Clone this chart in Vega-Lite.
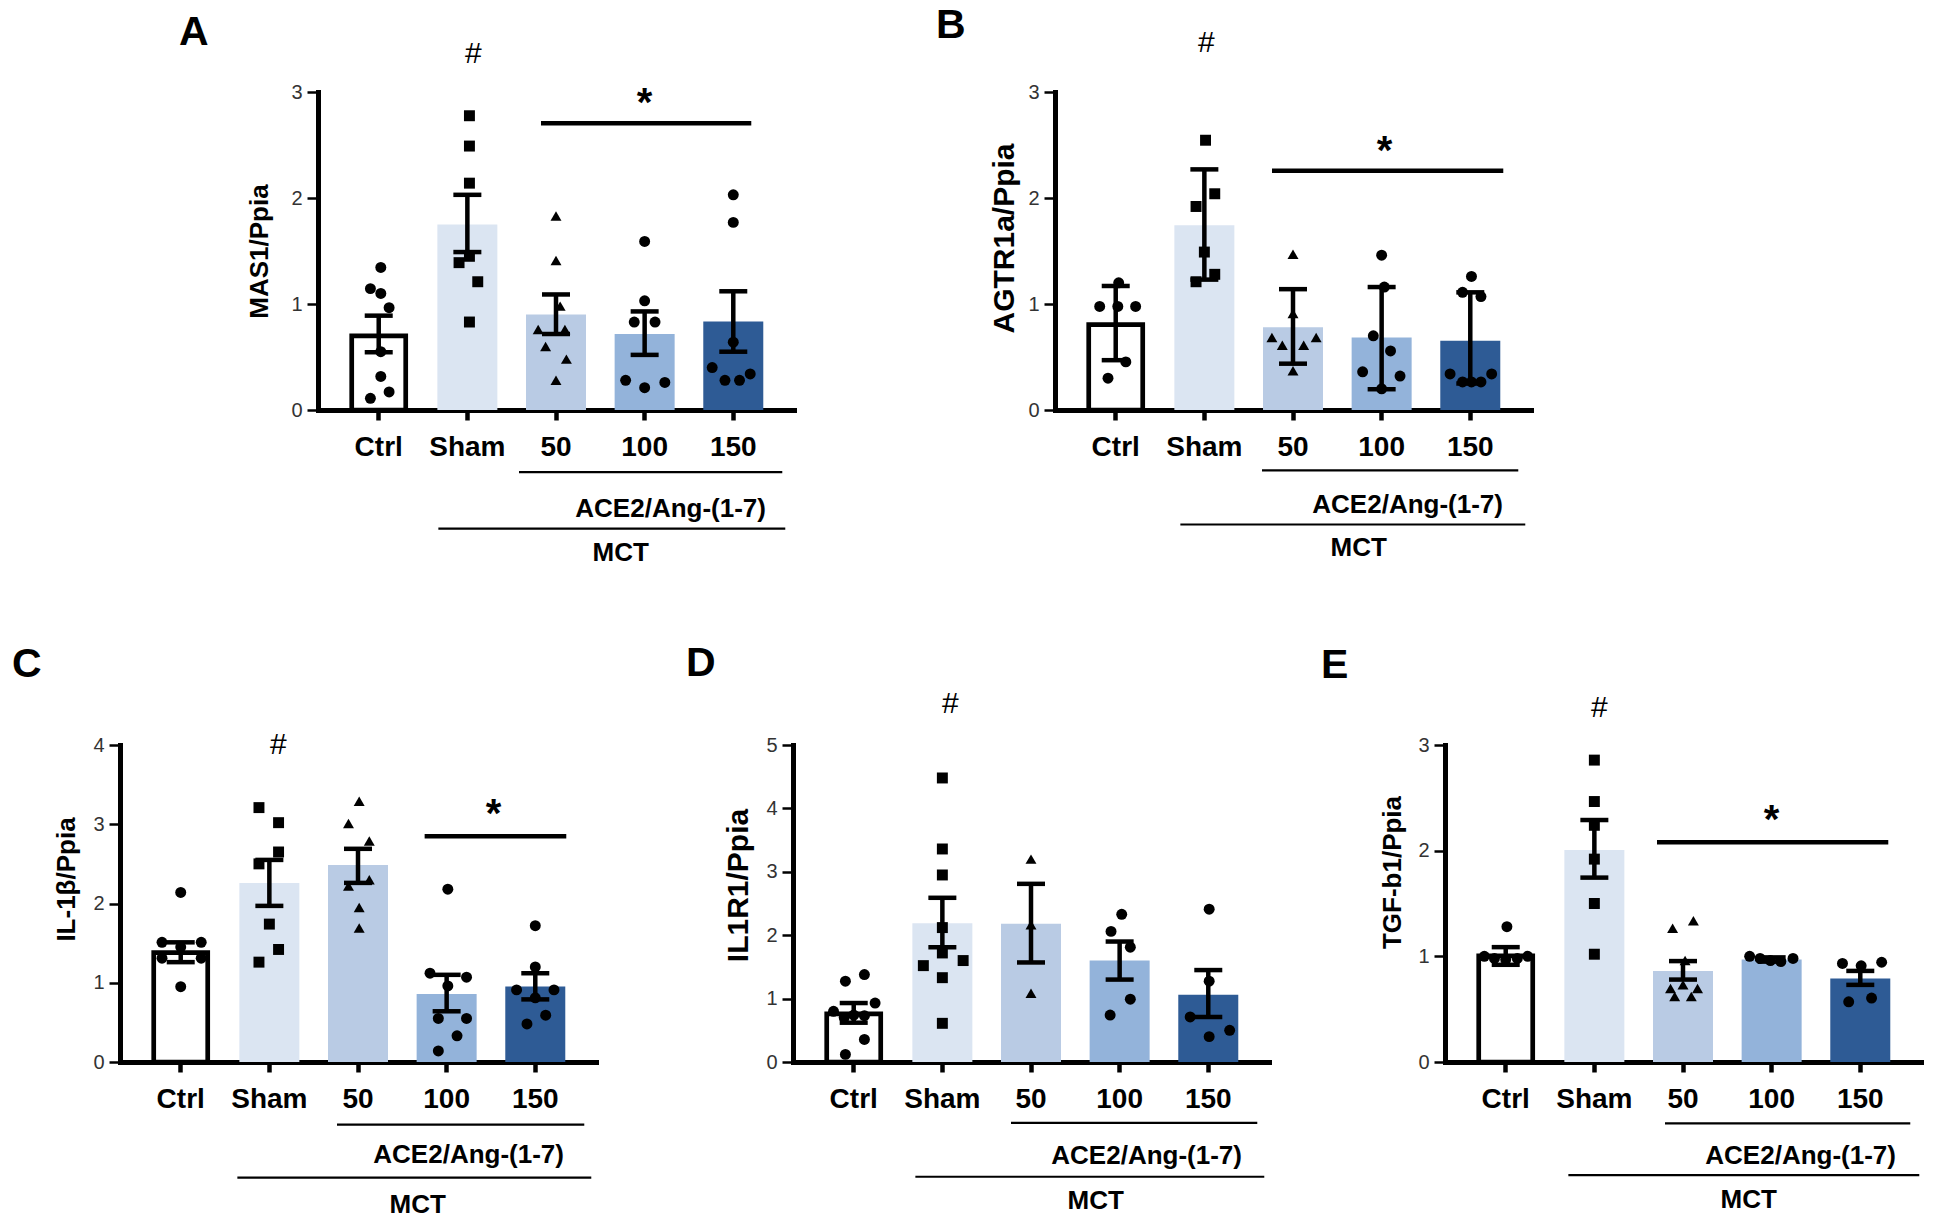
{
"$schema": "https://vega.github.io/schema/vega-lite/v6.json",
"padding": {"left": 12, "top": 5, "right": 5, "bottom": 5},
"config": {
  "font": "Liberation Sans",
  "view": {"stroke": null},
  "axis": {"grid": false, "domainColor": "#000", "tickColor": "#000", "domainCap": "square"},
  "axisX": {"labelFontSize": 28, "labelFontWeight": "bold", "labelColor": "#000", "labelAngle": 0, "labelPadding": 13, "tickSize": 10, "tickWidth": 4.5, "domainWidth": 5},
  "axisY": {"labelFontSize": 20, "labelColor": "#333", "labelPadding": 5, "tickSize": 11, "tickWidth": 2.5, "domainWidth": 5, "titleFontWeight": "bold", "titleColor": "#000", "format": "d"},
  "title": {"anchor": "start", "frame": "group", "fontSize": 41, "fontWeight": "bold", "color": "#000", "baseline": "alphabetic"}
},
"datasets": {
  "bars": [
    {"p":"A","g":"Ctrl","m":0.70,"lo":0.545,"hi":0.89},
    {"p":"A","g":"Sham","m":1.75,"lo":1.49,"hi":2.03},
    {"p":"A","g":"50","m":0.90,"lo":0.717,"hi":1.09},
    {"p":"A","g":"100","m":0.717,"lo":0.52,"hi":0.93},
    {"p":"A","g":"150","m":0.834,"lo":0.55,"hi":1.12},
    {"p":"B","g":"Ctrl","m":0.805,"lo":0.47,"hi":1.17},
    {"p":"B","g":"Sham","m":1.744,"lo":1.23,"hi":2.27},
    {"p":"B","g":"50","m":0.78,"lo":0.437,"hi":1.14},
    {"p":"B","g":"100","m":0.685,"lo":0.196,"hi":1.16},
    {"p":"B","g":"150","m":0.654,"lo":0.25,"hi":1.11},
    {"p":"C","g":"Ctrl","m":1.38,"lo":1.26,"hi":1.51},
    {"p":"C","g":"Sham","m":2.26,"lo":1.97,"hi":2.55},
    {"p":"C","g":"50","m":2.486,"lo":2.26,"hi":2.69},
    {"p":"C","g":"100","m":0.857,"lo":0.64,"hi":1.10},
    {"p":"C","g":"150","m":0.952,"lo":0.79,"hi":1.12},
    {"p":"D","g":"Ctrl","m":0.76,"lo":0.62,"hi":0.93},
    {"p":"D","g":"Sham","m":2.19,"lo":1.81,"hi":2.59},
    {"p":"D","g":"50","m":2.18,"lo":1.57,"hi":2.81},
    {"p":"D","g":"100","m":1.60,"lo":1.30,"hi":1.90},
    {"p":"D","g":"150","m":1.06,"lo":0.71,"hi":1.45},
    {"p":"E","g":"Ctrl","m":1.005,"lo":0.92,"hi":1.087},
    {"p":"E","g":"Sham","m":2.006,"lo":1.745,"hi":2.29},
    {"p":"E","g":"50","m":0.862,"lo":0.78,"hi":0.955},
    {"p":"E","g":"100","m":0.969,"lo":0.95,"hi":0.99},
    {"p":"E","g":"150","m":0.79,"lo":0.73,"hi":0.862}
  ],
  "pts": [
    {"p":"A","g":"Ctrl","v":1.345,"j":0.07},{"p":"A","g":"Ctrl","v":1.145,"j":-0.28},{"p":"A","g":"Ctrl","v":1.10,"j":0.07},{"p":"A","g":"Ctrl","v":0.965,"j":0.35},{"p":"A","g":"Ctrl","v":0.55,"j":0.07},{"p":"A","g":"Ctrl","v":0.317,"j":0.07},{"p":"A","g":"Ctrl","v":0.17,"j":0.35},{"p":"A","g":"Ctrl","v":0.11,"j":-0.28},
    {"p":"A","g":"Sham","v":2.776,"j":0.07},{"p":"A","g":"Sham","v":2.49,"j":0.07},{"p":"A","g":"Sham","v":2.14,"j":0.07},{"p":"A","g":"Sham","v":1.45,"j":0.07},{"p":"A","g":"Sham","v":1.39,"j":-0.28},{"p":"A","g":"Sham","v":1.21,"j":0.35},{"p":"A","g":"Sham","v":0.83,"j":0.07},
    {"p":"A","g":"50","v":1.83,"j":0},{"p":"A","g":"50","v":1.41,"j":0},{"p":"A","g":"50","v":0.98,"j":0.14},{"p":"A","g":"50","v":0.76,"j":-0.6},{"p":"A","g":"50","v":0.76,"j":0.3},{"p":"A","g":"50","v":0.60,"j":-0.35},{"p":"A","g":"50","v":0.48,"j":0.35},{"p":"A","g":"50","v":0.28,"j":0},
    {"p":"A","g":"100","v":1.59,"j":0},{"p":"A","g":"100","v":1.03,"j":0},{"p":"A","g":"100","v":0.83,"j":-0.35},{"p":"A","g":"100","v":0.83,"j":0.35},{"p":"A","g":"100","v":0.28,"j":-0.64},{"p":"A","g":"100","v":0.21,"j":0},{"p":"A","g":"100","v":0.26,"j":0.68},
    {"p":"A","g":"150","v":2.03,"j":0},{"p":"A","g":"150","v":1.77,"j":0},{"p":"A","g":"150","v":0.64,"j":0},{"p":"A","g":"150","v":0.40,"j":-0.71},{"p":"A","g":"150","v":0.34,"j":0.57},{"p":"A","g":"150","v":0.28,"j":-0.28},{"p":"A","g":"150","v":0.28,"j":0.21},
    {"p":"B","g":"Ctrl","v":1.20,"j":0.1},{"p":"B","g":"Ctrl","v":0.977,"j":-0.54},{"p":"B","g":"Ctrl","v":0.977,"j":0.07},{"p":"B","g":"Ctrl","v":0.977,"j":0.67},{"p":"B","g":"Ctrl","v":0.454,"j":0.34},{"p":"B","g":"Ctrl","v":0.30,"j":-0.26},
    {"p":"B","g":"Sham","v":2.545,"j":0.04},{"p":"B","g":"Sham","v":2.04,"j":0.35},{"p":"B","g":"Sham","v":1.92,"j":-0.28},{"p":"B","g":"Sham","v":1.49,"j":0},{"p":"B","g":"Sham","v":1.28,"j":0.35},{"p":"B","g":"Sham","v":1.21,"j":-0.28},
    {"p":"B","g":"50","v":1.47,"j":0},{"p":"B","g":"50","v":0.91,"j":0},{"p":"B","g":"50","v":0.685,"j":-0.71},{"p":"B","g":"50","v":0.685,"j":0.78},{"p":"B","g":"50","v":0.61,"j":-0.36},{"p":"B","g":"50","v":0.61,"j":0.36},{"p":"B","g":"50","v":0.37,"j":0},
    {"p":"B","g":"100","v":1.46,"j":0},{"p":"B","g":"100","v":1.16,"j":0.09},{"p":"B","g":"100","v":0.70,"j":-0.28},{"p":"B","g":"100","v":0.557,"j":0.3},{"p":"B","g":"100","v":0.36,"j":-0.64},{"p":"B","g":"100","v":0.32,"j":0.62},{"p":"B","g":"100","v":0.20,"j":0},
    {"p":"B","g":"150","v":1.26,"j":0.04},{"p":"B","g":"150","v":1.11,"j":-0.26},{"p":"B","g":"150","v":1.07,"j":0.36},{"p":"B","g":"150","v":0.34,"j":-0.68},{"p":"B","g":"150","v":0.34,"j":0.72},{"p":"B","g":"150","v":0.265,"j":-0.26},{"p":"B","g":"150","v":0.265,"j":0.04},{"p":"B","g":"150","v":0.265,"j":0.36},
    {"p":"C","g":"Ctrl","v":2.14,"j":0},{"p":"C","g":"Ctrl","v":1.51,"j":-0.63},{"p":"C","g":"Ctrl","v":1.51,"j":0.69},{"p":"C","g":"Ctrl","v":1.45,"j":0},{"p":"C","g":"Ctrl","v":1.31,"j":-0.63},{"p":"C","g":"Ctrl","v":1.31,"j":0.69},{"p":"C","g":"Ctrl","v":0.95,"j":0},
    {"p":"C","g":"Sham","v":3.21,"j":-0.35},{"p":"C","g":"Sham","v":3.02,"j":0.31},{"p":"C","g":"Sham","v":2.65,"j":0.31},{"p":"C","g":"Sham","v":2.5,"j":-0.35},{"p":"C","g":"Sham","v":1.74,"j":0},{"p":"C","g":"Sham","v":1.42,"j":0.31},{"p":"C","g":"Sham","v":1.26,"j":-0.35},
    {"p":"C","g":"50","v":3.29,"j":0.04},{"p":"C","g":"50","v":3.01,"j":-0.32},{"p":"C","g":"50","v":2.79,"j":0.38},{"p":"C","g":"50","v":2.30,"j":0.38},{"p":"C","g":"50","v":2.22,"j":-0.32},{"p":"C","g":"50","v":1.95,"j":0.04},{"p":"C","g":"50","v":1.69,"j":0.04},
    {"p":"C","g":"100","v":2.18,"j":0.04},{"p":"C","g":"100","v":1.12,"j":-0.56},{"p":"C","g":"100","v":1.07,"j":0.67},{"p":"C","g":"100","v":0.96,"j":0.04},{"p":"C","g":"100","v":0.55,"j":-0.28},{"p":"C","g":"100","v":0.55,"j":0.67},{"p":"C","g":"100","v":0.33,"j":0.35},{"p":"C","g":"100","v":0.14,"j":-0.28},
    {"p":"C","g":"150","v":1.72,"j":0},{"p":"C","g":"150","v":1.2,"j":0},{"p":"C","g":"150","v":0.91,"j":-0.63},{"p":"C","g":"150","v":0.91,"j":0.63},{"p":"C","g":"150","v":0.81,"j":0},{"p":"C","g":"150","v":0.59,"j":0.35},{"p":"C","g":"150","v":0.48,"j":-0.28},
    {"p":"D","g":"Ctrl","v":1.38,"j":0.36},{"p":"D","g":"Ctrl","v":1.275,"j":-0.28},{"p":"D","g":"Ctrl","v":0.93,"j":0.72},{"p":"D","g":"Ctrl","v":0.80,"j":-0.68},{"p":"D","g":"Ctrl","v":0.74,"j":0},{"p":"D","g":"Ctrl","v":0.73,"j":0.36},{"p":"D","g":"Ctrl","v":0.70,"j":-0.32},{"p":"D","g":"Ctrl","v":0.356,"j":0.36},{"p":"D","g":"Ctrl","v":0.12,"j":-0.28},
    {"p":"D","g":"Sham","v":4.48,"j":0},{"p":"D","g":"Sham","v":3.36,"j":0},{"p":"D","g":"Sham","v":2.95,"j":0},{"p":"D","g":"Sham","v":2.12,"j":0},{"p":"D","g":"Sham","v":1.72,"j":0},{"p":"D","g":"Sham","v":1.60,"j":0.7},{"p":"D","g":"Sham","v":1.52,"j":-0.64},{"p":"D","g":"Sham","v":1.33,"j":0},{"p":"D","g":"Sham","v":0.61,"j":0},
    {"p":"D","g":"50","v":3.2,"j":0},{"p":"D","g":"50","v":2.165,"j":0},{"p":"D","g":"50","v":1.085,"j":0},
    {"p":"D","g":"100","v":2.33,"j":0.07},{"p":"D","g":"100","v":2.06,"j":-0.29},{"p":"D","g":"100","v":1.81,"j":0.36},{"p":"D","g":"100","v":0.99,"j":0.36},{"p":"D","g":"100","v":0.74,"j":-0.32},
    {"p":"D","g":"150","v":2.41,"j":0.03},{"p":"D","g":"150","v":1.275,"j":0.03},{"p":"D","g":"150","v":0.71,"j":-0.61},{"p":"D","g":"150","v":0.50,"j":0.72},{"p":"D","g":"150","v":0.40,"j":0.03},
    {"p":"E","g":"Ctrl","v":1.28,"j":0.04},{"p":"E","g":"Ctrl","v":1.0,"j":-0.72},{"p":"E","g":"Ctrl","v":0.98,"j":-0.38},{"p":"E","g":"Ctrl","v":0.97,"j":0},{"p":"E","g":"Ctrl","v":0.98,"j":0.39},{"p":"E","g":"Ctrl","v":1.0,"j":0.74},
    {"p":"E","g":"Sham","v":2.857,"j":0},{"p":"E","g":"Sham","v":2.465,"j":0},{"p":"E","g":"Sham","v":2.24,"j":0},{"p":"E","g":"Sham","v":1.92,"j":0},{"p":"E","g":"Sham","v":1.50,"j":0},{"p":"E","g":"Sham","v":1.02,"j":0},
    {"p":"E","g":"50","v":1.336,"j":0.35},{"p":"E","g":"50","v":1.265,"j":-0.35},{"p":"E","g":"50","v":0.96,"j":0.07},{"p":"E","g":"50","v":0.73,"j":0},{"p":"E","g":"50","v":0.695,"j":-0.42},{"p":"E","g":"50","v":0.695,"j":0.49},{"p":"E","g":"50","v":0.62,"j":-0.28},{"p":"E","g":"50","v":0.62,"j":0.28},
    {"p":"E","g":"100","v":1.0,"j":-0.74},{"p":"E","g":"100","v":0.98,"j":-0.39},{"p":"E","g":"100","v":0.96,"j":-0.04},{"p":"E","g":"100","v":0.95,"j":0.31},{"p":"E","g":"100","v":0.98,"j":0.72},
    {"p":"E","g":"150","v":0.933,"j":-0.6},{"p":"E","g":"150","v":0.91,"j":0.03},{"p":"E","g":"150","v":0.944,"j":0.72},{"p":"E","g":"150","v":0.57,"j":-0.39},{"p":"E","g":"150","v":0.605,"j":0.38}
  ],
  "notes": [
    {"p":"A","k":"hash","g":"Sham","v":3.36,"t":"#"},
    {"p":"A","k":"star","g":"100","v":2.89,"t":"*"},
    {"p":"A","k":"sig","g":"50","g2":"150","v":2.705},
    {"p":"A","k":"br1","g":"50","g2":"150","v":-0.586},
    {"p":"A","k":"ace","g":"100","v":-0.93,"t":"ACE2/Ang-(1-7)"},
    {"p":"A","k":"br2","g":"Sham","g2":"150","v":-1.12},
    {"p":"A","k":"mct","g":"100","v":-1.35,"t":"MCT"},
    {"p":"B","k":"hash","g":"Sham","v":3.46,"t":"#"},
    {"p":"B","k":"star","g":"100","v":2.43,"t":"*"},
    {"p":"B","k":"sig","g":"50","g2":"150","v":2.257},
    {"p":"B","k":"br1","g":"50","g2":"150","v":-0.57},
    {"p":"B","k":"ace","g":"100","v":-0.90,"t":"ACE2/Ang-(1-7)"},
    {"p":"B","k":"br2","g":"Sham","g2":"150","v":-1.08},
    {"p":"B","k":"mct","g":"100","v":-1.30,"t":"MCT"},
    {"p":"C","k":"hash","g":"Sham","v":4.0,"t":"#"},
    {"p":"C","k":"star","g":"100","v":3.12,"t":"*"},
    {"p":"C","k":"sig","g":"100","g2":"150","v":2.85},
    {"p":"C","k":"br1","g":"50","g2":"150","v":-0.79},
    {"p":"C","k":"ace","g":"100","v":-1.17,"t":"ACE2/Ang-(1-7)"},
    {"p":"C","k":"br2","g":"Sham","g2":"150","v":-1.46},
    {"p":"C","k":"mct","g":"100","v":-1.81,"t":"MCT"},
    {"p":"D","k":"hash","g":"Sham","v":5.64,"t":"#"},
    {"p":"D","k":"br1","g":"50","g2":"150","v":-0.96},
    {"p":"D","k":"ace","g":"100","v":-1.48,"t":"ACE2/Ang-(1-7)"},
    {"p":"D","k":"br2","g":"Sham","g2":"150","v":-1.81},
    {"p":"D","k":"mct","g":"100","v":-2.19,"t":"MCT"},
    {"p":"E","k":"hash","g":"Sham","v":3.35,"t":"#"},
    {"p":"E","k":"star","g":"100","v":2.28,"t":"*"},
    {"p":"E","k":"sig","g":"50","g2":"150","v":2.08},
    {"p":"E","k":"br1","g":"50","g2":"150","v":-0.58},
    {"p":"E","k":"ace","g":"100","v":-0.89,"t":"ACE2/Ang-(1-7)"},
    {"p":"E","k":"br2","g":"Sham","g2":"150","v":-1.07},
    {"p":"E","k":"mct","g":"100","v":-1.31,"t":"MCT"}
  ]
},
"bounds": "flush",
"spacing": 653,
"vconcat": [
  {
    "bounds": "flush",
    "spacing": 10,
    "hconcat": [
      {"width": 188, "height": 318, "data": {"values": [{}]}, "mark": {"type": "text"}, "encoding": {"text": {"value": ""}}},
      {
        "bounds": "flush",
        "spacing": 261,
        "hconcat": [
          {
            "title": {"text": "A", "dx": -139, "offset": -15},
            "width": 476, "height": 318,
            "layer": [
              {"data": {"name": "bars"}, "transform": [{"filter": "datum.p == 'A' && datum.g != 'Ctrl'"}],
               "mark": {"type": "bar", "width": 60, "opacity": 1},
               "encoding": {
                 "x": {"field": "g", "type": "nominal", "sort": ["Ctrl","Sham","50","100","150"], "scale": {"domain": ["Ctrl","Sham","50","100","150"], "paddingInner": 0.33, "paddingOuter": 0.35}, "title": null},
                 "y": {"field": "m", "type": "quantitative", "stack": null, "title": "MAS1/Ppia", "scale": {"domain": [0,3], "nice": false, "zero": false}, "axis": {"values": [0,1,2,3], "titleFontSize": 26, "titlePadding": 18}},
                 "fill": {"field": "g", "type": "nominal", "scale": {"domain": ["Ctrl","Sham","50","100","150"], "range": ["#ffffff","#dbe5f2","#b9cbe4","#93b3da","#2e5b95"]}, "legend": null}
               }},
              {"data": {"name": "bars"}, "transform": [{"filter": "datum.p == 'A' && datum.g == 'Ctrl'"}],
               "mark": {"type": "bar", "width": 54, "fill": "#ffffff", "stroke": "#000000", "strokeWidth": 4.7, "opacity": 1},
               "encoding": {
                 "x": {"field": "g", "type": "nominal", "sort": ["Ctrl","Sham","50","100","150"], "title": null},
                 "y": {"field": "m", "type": "quantitative", "stack": null, "title": "MAS1/Ppia", "scale": {"domain": [0,3], "nice": false, "zero": false}}
               }},
              {"data": {"name": "pts"}, "transform": [{"filter": "datum.p == 'A'"}],
               "mark": {"type": "point", "filled": true, "color": "#000", "opacity": 1, "size": 120, "strokeWidth": 0},
               "encoding": {
                 "x": {"field": "g", "type": "nominal", "sort": ["Ctrl","Sham","50","100","150"], "title": null},
                 "xOffset": {"field": "j", "type": "quantitative", "scale": {"domain": [-1,1]}},
                 "y": {"field": "v", "type": "quantitative", "title": "MAS1/Ppia", "scale": {"domain": [0,3], "nice": false, "zero": false}},
                 "shape": {"field": "g", "type": "nominal", "scale": {"domain": ["Ctrl","Sham","50","100","150"], "range": ["circle","square","triangle-up","circle","circle"]}, "legend": null}
               }},
              {"data": {"name": "bars"}, "transform": [{"filter": "datum.p == 'A'"}],
               "mark": {"type": "rule", "strokeWidth": 4.5, "color": "#000"},
               "encoding": {
                 "x": {"field": "g", "type": "nominal", "sort": ["Ctrl","Sham","50","100","150"], "title": null},
                 "y": {"field": "lo", "type": "quantitative", "title": "MAS1/Ppia", "scale": {"domain": [0,3], "nice": false, "zero": false}},
                 "y2": {"field": "hi"}
               }},
              {"data": {"name": "bars"}, "transform": [{"filter": "datum.p == 'A'"}],
               "mark": {"type": "tick", "thickness": 4.5, "size": 28, "color": "#000", "opacity": 1},
               "encoding": {
                 "x": {"field": "g", "type": "nominal", "sort": ["Ctrl","Sham","50","100","150"], "title": null},
                 "y": {"field": "lo", "type": "quantitative", "title": "MAS1/Ppia", "scale": {"domain": [0,3], "nice": false, "zero": false}}
               }},
              {"data": {"name": "bars"}, "transform": [{"filter": "datum.p == 'A'"}],
               "mark": {"type": "tick", "thickness": 4.5, "size": 28, "color": "#000", "opacity": 1},
               "encoding": {
                 "x": {"field": "g", "type": "nominal", "sort": ["Ctrl","Sham","50","100","150"], "title": null},
                 "y": {"field": "hi", "type": "quantitative", "title": "MAS1/Ppia", "scale": {"domain": [0,3], "nice": false, "zero": false}}
               }},
              {"data": {"name": "notes"}, "transform": [{"filter": "datum.p == 'A' && datum.k == 'sig'"}],
               "mark": {"type": "rule", "strokeWidth": 4.5, "color": "#000", "xOffset": -15, "x2Offset": 18},
               "encoding": {
                 "x": {"field": "g", "type": "nominal", "sort": ["Ctrl","Sham","50","100","150"], "title": null},
                 "x2": {"field": "g2"},
                 "y": {"field": "v", "type": "quantitative", "title": "MAS1/Ppia", "scale": {"domain": [0,3], "nice": false, "zero": false}}
               }},
              {"data": {"name": "notes"}, "transform": [{"filter": "datum.p == 'A' && datum.k == 'br1'"}],
               "mark": {"type": "rule", "strokeWidth": 2.2, "color": "#000", "xOffset": -37, "x2Offset": 49},
               "encoding": {
                 "x": {"field": "g", "type": "nominal", "sort": ["Ctrl","Sham","50","100","150"], "title": null},
                 "x2": {"field": "g2"},
                 "y": {"field": "v", "type": "quantitative", "title": "MAS1/Ppia", "scale": {"domain": [0,3], "nice": false, "zero": false}}
               }},
              {"data": {"name": "notes"}, "transform": [{"filter": "datum.p == 'A' && datum.k == 'br2'"}],
               "mark": {"type": "rule", "strokeWidth": 2.2, "color": "#000", "xOffset": -29, "x2Offset": 52},
               "encoding": {
                 "x": {"field": "g", "type": "nominal", "sort": ["Ctrl","Sham","50","100","150"], "title": null},
                 "x2": {"field": "g2"},
                 "y": {"field": "v", "type": "quantitative", "title": "MAS1/Ppia", "scale": {"domain": [0,3], "nice": false, "zero": false}}
               }},
              {"data": {"name": "notes"}, "transform": [{"filter": "datum.p == 'A' && datum.k == 'hash'"}],
               "mark": {"type": "text", "fontSize": 30, "color": "#000", "dx": 6, "baseline": "middle", "align": "center"},
               "encoding": {
                 "x": {"field": "g", "type": "nominal", "sort": ["Ctrl","Sham","50","100","150"], "title": null},
                 "y": {"field": "v", "type": "quantitative", "title": "MAS1/Ppia", "scale": {"domain": [0,3], "nice": false, "zero": false}},
                 "text": {"field": "t"}
               }},
              {"data": {"name": "notes"}, "transform": [{"filter": "datum.p == 'A' && datum.k == 'star'"}],
               "mark": {"type": "text", "fontSize": 40, "fontWeight": "bold", "color": "#000", "dx": 0, "baseline": "middle", "align": "center"},
               "encoding": {
                 "x": {"field": "g", "type": "nominal", "sort": ["Ctrl","Sham","50","100","150"], "title": null},
                 "y": {"field": "v", "type": "quantitative", "title": "MAS1/Ppia", "scale": {"domain": [0,3], "nice": false, "zero": false}},
                 "text": {"field": "t"}
               }},
              {"data": {"name": "notes"}, "transform": [{"filter": "datum.p == 'A' && datum.k == 'ace'"}],
               "mark": {"type": "text", "fontSize": 26, "fontWeight": "bold", "color": "#000", "dx": 26, "baseline": "middle", "align": "center"},
               "encoding": {
                 "x": {"field": "g", "type": "nominal", "sort": ["Ctrl","Sham","50","100","150"], "title": null},
                 "y": {"field": "v", "type": "quantitative", "title": "MAS1/Ppia", "scale": {"domain": [0,3], "nice": false, "zero": false}},
                 "text": {"field": "t"}
               }},
              {"data": {"name": "notes"}, "transform": [{"filter": "datum.p == 'A' && datum.k == 'mct'"}],
               "mark": {"type": "text", "fontSize": 26, "fontWeight": "bold", "color": "#000", "dx": -24, "baseline": "middle", "align": "center"},
               "encoding": {
                 "x": {"field": "g", "type": "nominal", "sort": ["Ctrl","Sham","50","100","150"], "title": null},
                 "y": {"field": "v", "type": "quantitative", "title": "MAS1/Ppia", "scale": {"domain": [0,3], "nice": false, "zero": false}},
                 "text": {"field": "t"}
               }}
            ]
          },
          {
            "title": {"text": "B", "dx": -119, "offset": -19},
            "width": 476, "height": 318,
            "layer": [
              {"data": {"name": "bars"}, "transform": [{"filter": "datum.p == 'B' && datum.g != 'Ctrl'"}],
               "mark": {"type": "bar", "width": 60, "opacity": 1},
               "encoding": {
                 "x": {"field": "g", "type": "nominal", "sort": ["Ctrl","Sham","50","100","150"], "scale": {"domain": ["Ctrl","Sham","50","100","150"], "paddingInner": 0.33, "paddingOuter": 0.35}, "title": null},
                 "y": {"field": "m", "type": "quantitative", "stack": null, "title": "AGTR1a/Ppia", "scale": {"domain": [0,3], "nice": false, "zero": false}, "axis": {"values": [0,1,2,3], "titleFontSize": 30, "titlePadding": 8, "titleY": 146}},
                 "fill": {"field": "g", "type": "nominal", "scale": {"domain": ["Ctrl","Sham","50","100","150"], "range": ["#ffffff","#dbe5f2","#b9cbe4","#93b3da","#2e5b95"]}, "legend": null}
               }},
              {"data": {"name": "bars"}, "transform": [{"filter": "datum.p == 'B' && datum.g == 'Ctrl'"}],
               "mark": {"type": "bar", "width": 54, "fill": "#ffffff", "stroke": "#000000", "strokeWidth": 4.7, "opacity": 1},
               "encoding": {
                 "x": {"field": "g", "type": "nominal", "sort": ["Ctrl","Sham","50","100","150"], "title": null},
                 "y": {"field": "m", "type": "quantitative", "stack": null, "title": "AGTR1a/Ppia", "scale": {"domain": [0,3], "nice": false, "zero": false}}
               }},
              {"data": {"name": "pts"}, "transform": [{"filter": "datum.p == 'B'"}],
               "mark": {"type": "point", "filled": true, "color": "#000", "opacity": 1, "size": 120, "strokeWidth": 0},
               "encoding": {
                 "x": {"field": "g", "type": "nominal", "sort": ["Ctrl","Sham","50","100","150"], "title": null},
                 "xOffset": {"field": "j", "type": "quantitative", "scale": {"domain": [-1,1]}},
                 "y": {"field": "v", "type": "quantitative", "title": "AGTR1a/Ppia", "scale": {"domain": [0,3], "nice": false, "zero": false}},
                 "shape": {"field": "g", "type": "nominal", "scale": {"domain": ["Ctrl","Sham","50","100","150"], "range": ["circle","square","triangle-up","circle","circle"]}, "legend": null}
               }},
              {"data": {"name": "bars"}, "transform": [{"filter": "datum.p == 'B'"}],
               "mark": {"type": "rule", "strokeWidth": 4.5, "color": "#000"},
               "encoding": {
                 "x": {"field": "g", "type": "nominal", "sort": ["Ctrl","Sham","50","100","150"], "title": null},
                 "y": {"field": "lo", "type": "quantitative", "title": "AGTR1a/Ppia", "scale": {"domain": [0,3], "nice": false, "zero": false}},
                 "y2": {"field": "hi"}
               }},
              {"data": {"name": "bars"}, "transform": [{"filter": "datum.p == 'B'"}],
               "mark": {"type": "tick", "thickness": 4.5, "size": 28, "color": "#000", "opacity": 1},
               "encoding": {
                 "x": {"field": "g", "type": "nominal", "sort": ["Ctrl","Sham","50","100","150"], "title": null},
                 "y": {"field": "lo", "type": "quantitative", "title": "AGTR1a/Ppia", "scale": {"domain": [0,3], "nice": false, "zero": false}}
               }},
              {"data": {"name": "bars"}, "transform": [{"filter": "datum.p == 'B'"}],
               "mark": {"type": "tick", "thickness": 4.5, "size": 28, "color": "#000", "opacity": 1},
               "encoding": {
                 "x": {"field": "g", "type": "nominal", "sort": ["Ctrl","Sham","50","100","150"], "title": null},
                 "y": {"field": "hi", "type": "quantitative", "title": "AGTR1a/Ppia", "scale": {"domain": [0,3], "nice": false, "zero": false}}
               }},
              {"data": {"name": "notes"}, "transform": [{"filter": "datum.p == 'B' && datum.k == 'sig'"}],
               "mark": {"type": "rule", "strokeWidth": 4.5, "color": "#000", "xOffset": -21, "x2Offset": 33},
               "encoding": {
                 "x": {"field": "g", "type": "nominal", "sort": ["Ctrl","Sham","50","100","150"], "title": null},
                 "x2": {"field": "g2"},
                 "y": {"field": "v", "type": "quantitative", "title": "AGTR1a/Ppia", "scale": {"domain": [0,3], "nice": false, "zero": false}}
               }},
              {"data": {"name": "notes"}, "transform": [{"filter": "datum.p == 'B' && datum.k == 'br1'"}],
               "mark": {"type": "rule", "strokeWidth": 2.2, "color": "#000", "xOffset": -31, "x2Offset": 48},
               "encoding": {
                 "x": {"field": "g", "type": "nominal", "sort": ["Ctrl","Sham","50","100","150"], "title": null},
                 "x2": {"field": "g2"},
                 "y": {"field": "v", "type": "quantitative", "title": "AGTR1a/Ppia", "scale": {"domain": [0,3], "nice": false, "zero": false}}
               }},
              {"data": {"name": "notes"}, "transform": [{"filter": "datum.p == 'B' && datum.k == 'br2'"}],
               "mark": {"type": "rule", "strokeWidth": 2.2, "color": "#000", "xOffset": -24, "x2Offset": 55},
               "encoding": {
                 "x": {"field": "g", "type": "nominal", "sort": ["Ctrl","Sham","50","100","150"], "title": null},
                 "x2": {"field": "g2"},
                 "y": {"field": "v", "type": "quantitative", "title": "AGTR1a/Ppia", "scale": {"domain": [0,3], "nice": false, "zero": false}}
               }},
              {"data": {"name": "notes"}, "transform": [{"filter": "datum.p == 'B' && datum.k == 'hash'"}],
               "mark": {"type": "text", "fontSize": 30, "color": "#000", "dx": 2, "baseline": "middle", "align": "center"},
               "encoding": {
                 "x": {"field": "g", "type": "nominal", "sort": ["Ctrl","Sham","50","100","150"], "title": null},
                 "y": {"field": "v", "type": "quantitative", "title": "AGTR1a/Ppia", "scale": {"domain": [0,3], "nice": false, "zero": false}},
                 "text": {"field": "t"}
               }},
              {"data": {"name": "notes"}, "transform": [{"filter": "datum.p == 'B' && datum.k == 'star'"}],
               "mark": {"type": "text", "fontSize": 40, "fontWeight": "bold", "color": "#000", "dx": 3, "baseline": "middle", "align": "center"},
               "encoding": {
                 "x": {"field": "g", "type": "nominal", "sort": ["Ctrl","Sham","50","100","150"], "title": null},
                 "y": {"field": "v", "type": "quantitative", "title": "AGTR1a/Ppia", "scale": {"domain": [0,3], "nice": false, "zero": false}},
                 "text": {"field": "t"}
               }},
              {"data": {"name": "notes"}, "transform": [{"filter": "datum.p == 'B' && datum.k == 'ace'"}],
               "mark": {"type": "text", "fontSize": 26, "fontWeight": "bold", "color": "#000", "dx": 26, "baseline": "middle", "align": "center"},
               "encoding": {
                 "x": {"field": "g", "type": "nominal", "sort": ["Ctrl","Sham","50","100","150"], "title": null},
                 "y": {"field": "v", "type": "quantitative", "title": "AGTR1a/Ppia", "scale": {"domain": [0,3], "nice": false, "zero": false}},
                 "text": {"field": "t"}
               }},
              {"data": {"name": "notes"}, "transform": [{"filter": "datum.p == 'B' && datum.k == 'mct'"}],
               "mark": {"type": "text", "fontSize": 26, "fontWeight": "bold", "color": "#000", "dx": -23, "baseline": "middle", "align": "center"},
               "encoding": {
                 "x": {"field": "g", "type": "nominal", "sort": ["Ctrl","Sham","50","100","150"], "title": null},
                 "y": {"field": "v", "type": "quantitative", "title": "AGTR1a/Ppia", "scale": {"domain": [0,3], "nice": false, "zero": false}},
                 "text": {"field": "t"}
               }}
            ]
          }
        ]
      }
    ]
  },
  {
    "bounds": "flush",
    "spacing": 197,
    "hconcat": [
      {
        "title": {"text": "C", "dx": -108, "offset": 44},
        "width": 476, "height": 317,
        "layer": [
          {"data": {"name": "bars"}, "transform": [{"filter": "datum.p == 'C' && datum.g != 'Ctrl'"}],
           "mark": {"type": "bar", "width": 60, "opacity": 1},
           "encoding": {
             "x": {"field": "g", "type": "nominal", "sort": ["Ctrl","Sham","50","100","150"], "scale": {"domain": ["Ctrl","Sham","50","100","150"], "paddingInner": 0.33, "paddingOuter": 0.35}, "title": null},
             "y": {"field": "m", "type": "quantitative", "stack": null, "title": "IL-1β/Ppia", "scale": {"domain": [0,4], "nice": false, "zero": false}, "axis": {"values": [0,1,2,3,4], "titleFontSize": 26, "titlePadding": 13, "titleY": 134}},
             "fill": {"field": "g", "type": "nominal", "scale": {"domain": ["Ctrl","Sham","50","100","150"], "range": ["#ffffff","#dbe5f2","#b9cbe4","#93b3da","#2e5b95"]}, "legend": null}
           }},
          {"data": {"name": "bars"}, "transform": [{"filter": "datum.p == 'C' && datum.g == 'Ctrl'"}],
           "mark": {"type": "bar", "width": 54, "fill": "#ffffff", "stroke": "#000000", "strokeWidth": 4.7, "opacity": 1},
           "encoding": {
             "x": {"field": "g", "type": "nominal", "sort": ["Ctrl","Sham","50","100","150"], "title": null},
             "y": {"field": "m", "type": "quantitative", "stack": null, "title": "IL-1β/Ppia", "scale": {"domain": [0,4], "nice": false, "zero": false}}
           }},
          {"data": {"name": "pts"}, "transform": [{"filter": "datum.p == 'C'"}],
           "mark": {"type": "point", "filled": true, "color": "#000", "opacity": 1, "size": 120, "strokeWidth": 0},
           "encoding": {
             "x": {"field": "g", "type": "nominal", "sort": ["Ctrl","Sham","50","100","150"], "title": null},
             "xOffset": {"field": "j", "type": "quantitative", "scale": {"domain": [-1,1]}},
             "y": {"field": "v", "type": "quantitative", "title": "IL-1β/Ppia", "scale": {"domain": [0,4], "nice": false, "zero": false}},
             "shape": {"field": "g", "type": "nominal", "scale": {"domain": ["Ctrl","Sham","50","100","150"], "range": ["circle","square","triangle-up","circle","circle"]}, "legend": null}
           }},
          {"data": {"name": "bars"}, "transform": [{"filter": "datum.p == 'C'"}],
           "mark": {"type": "rule", "strokeWidth": 4.5, "color": "#000"},
           "encoding": {
             "x": {"field": "g", "type": "nominal", "sort": ["Ctrl","Sham","50","100","150"], "title": null},
             "y": {"field": "lo", "type": "quantitative", "title": "IL-1β/Ppia", "scale": {"domain": [0,4], "nice": false, "zero": false}},
             "y2": {"field": "hi"}
           }},
          {"data": {"name": "bars"}, "transform": [{"filter": "datum.p == 'C'"}],
           "mark": {"type": "tick", "thickness": 4.5, "size": 28, "color": "#000", "opacity": 1},
           "encoding": {
             "x": {"field": "g", "type": "nominal", "sort": ["Ctrl","Sham","50","100","150"], "title": null},
             "y": {"field": "lo", "type": "quantitative", "title": "IL-1β/Ppia", "scale": {"domain": [0,4], "nice": false, "zero": false}}
           }},
          {"data": {"name": "bars"}, "transform": [{"filter": "datum.p == 'C'"}],
           "mark": {"type": "tick", "thickness": 4.5, "size": 28, "color": "#000", "opacity": 1},
           "encoding": {
             "x": {"field": "g", "type": "nominal", "sort": ["Ctrl","Sham","50","100","150"], "title": null},
             "y": {"field": "hi", "type": "quantitative", "title": "IL-1β/Ppia", "scale": {"domain": [0,4], "nice": false, "zero": false}}
           }},
          {"data": {"name": "notes"}, "transform": [{"filter": "datum.p == 'C' && datum.k == 'sig'"}],
           "mark": {"type": "rule", "strokeWidth": 4.5, "color": "#000", "xOffset": -22, "x2Offset": 31},
           "encoding": {
             "x": {"field": "g", "type": "nominal", "sort": ["Ctrl","Sham","50","100","150"], "title": null},
             "x2": {"field": "g2"},
             "y": {"field": "v", "type": "quantitative", "title": "IL-1β/Ppia", "scale": {"domain": [0,4], "nice": false, "zero": false}}
           }},
          {"data": {"name": "notes"}, "transform": [{"filter": "datum.p == 'C' && datum.k == 'br1'"}],
           "mark": {"type": "rule", "strokeWidth": 2.2, "color": "#000", "xOffset": -21, "x2Offset": 49},
           "encoding": {
             "x": {"field": "g", "type": "nominal", "sort": ["Ctrl","Sham","50","100","150"], "title": null},
             "x2": {"field": "g2"},
             "y": {"field": "v", "type": "quantitative", "title": "IL-1β/Ppia", "scale": {"domain": [0,4], "nice": false, "zero": false}}
           }},
          {"data": {"name": "notes"}, "transform": [{"filter": "datum.p == 'C' && datum.k == 'br2'"}],
           "mark": {"type": "rule", "strokeWidth": 2.2, "color": "#000", "xOffset": -32, "x2Offset": 56},
           "encoding": {
             "x": {"field": "g", "type": "nominal", "sort": ["Ctrl","Sham","50","100","150"], "title": null},
             "x2": {"field": "g2"},
             "y": {"field": "v", "type": "quantitative", "title": "IL-1β/Ppia", "scale": {"domain": [0,4], "nice": false, "zero": false}}
           }},
          {"data": {"name": "notes"}, "transform": [{"filter": "datum.p == 'C' && datum.k == 'hash'"}],
           "mark": {"type": "text", "fontSize": 30, "color": "#000", "dx": 9, "baseline": "middle", "align": "center"},
           "encoding": {
             "x": {"field": "g", "type": "nominal", "sort": ["Ctrl","Sham","50","100","150"], "title": null},
             "y": {"field": "v", "type": "quantitative", "title": "IL-1β/Ppia", "scale": {"domain": [0,4], "nice": false, "zero": false}},
             "text": {"field": "t"}
           }},
          {"data": {"name": "notes"}, "transform": [{"filter": "datum.p == 'C' && datum.k == 'star'"}],
           "mark": {"type": "text", "fontSize": 40, "fontWeight": "bold", "color": "#000", "dx": 47, "baseline": "middle", "align": "center"},
           "encoding": {
             "x": {"field": "g", "type": "nominal", "sort": ["Ctrl","Sham","50","100","150"], "title": null},
             "y": {"field": "v", "type": "quantitative", "title": "IL-1β/Ppia", "scale": {"domain": [0,4], "nice": false, "zero": false}},
             "text": {"field": "t"}
           }},
          {"data": {"name": "notes"}, "transform": [{"filter": "datum.p == 'C' && datum.k == 'ace'"}],
           "mark": {"type": "text", "fontSize": 26, "fontWeight": "bold", "color": "#000", "dx": 22, "baseline": "middle", "align": "center"},
           "encoding": {
             "x": {"field": "g", "type": "nominal", "sort": ["Ctrl","Sham","50","100","150"], "title": null},
             "y": {"field": "v", "type": "quantitative", "title": "IL-1β/Ppia", "scale": {"domain": [0,4], "nice": false, "zero": false}},
             "text": {"field": "t"}
           }},
          {"data": {"name": "notes"}, "transform": [{"filter": "datum.p == 'C' && datum.k == 'mct'"}],
           "mark": {"type": "text", "fontSize": 26, "fontWeight": "bold", "color": "#000", "dx": -29, "baseline": "middle", "align": "center"},
           "encoding": {
             "x": {"field": "g", "type": "nominal", "sort": ["Ctrl","Sham","50","100","150"], "title": null},
             "y": {"field": "v", "type": "quantitative", "title": "IL-1β/Ppia", "scale": {"domain": [0,4], "nice": false, "zero": false}},
             "text": {"field": "t"}
           }}
        ]
      },
      {
        "bounds": "flush",
        "spacing": 176,
        "hconcat": [
          {
            "title": {"text": "D", "dx": -107, "offset": 4},
            "width": 476, "height": 317,
            "layer": [
              {"data": {"name": "bars"}, "transform": [{"filter": "datum.p == 'D' && datum.g != 'Ctrl'"}],
               "mark": {"type": "bar", "width": 60, "opacity": 1},
               "encoding": {
                 "x": {"field": "g", "type": "nominal", "sort": ["Ctrl","Sham","50","100","150"], "scale": {"domain": ["Ctrl","Sham","50","100","150"], "paddingInner": 0.33, "paddingOuter": 0.35}, "title": null},
                 "y": {"field": "m", "type": "quantitative", "stack": null, "title": "IL1R1/Ppia", "scale": {"domain": [0,5], "nice": false, "zero": false}, "axis": {"values": [0,1,2,3,4,5], "titleFontSize": 30, "titlePadding": 12, "titleY": 140}},
                 "fill": {"field": "g", "type": "nominal", "scale": {"domain": ["Ctrl","Sham","50","100","150"], "range": ["#ffffff","#dbe5f2","#b9cbe4","#93b3da","#2e5b95"]}, "legend": null}
               }},
              {"data": {"name": "bars"}, "transform": [{"filter": "datum.p == 'D' && datum.g == 'Ctrl'"}],
               "mark": {"type": "bar", "width": 54, "fill": "#ffffff", "stroke": "#000000", "strokeWidth": 4.7, "opacity": 1},
               "encoding": {
                 "x": {"field": "g", "type": "nominal", "sort": ["Ctrl","Sham","50","100","150"], "title": null},
                 "y": {"field": "m", "type": "quantitative", "stack": null, "title": "IL1R1/Ppia", "scale": {"domain": [0,5], "nice": false, "zero": false}}
               }},
              {"data": {"name": "pts"}, "transform": [{"filter": "datum.p == 'D'"}],
               "mark": {"type": "point", "filled": true, "color": "#000", "opacity": 1, "size": 120, "strokeWidth": 0},
               "encoding": {
                 "x": {"field": "g", "type": "nominal", "sort": ["Ctrl","Sham","50","100","150"], "title": null},
                 "xOffset": {"field": "j", "type": "quantitative", "scale": {"domain": [-1,1]}},
                 "y": {"field": "v", "type": "quantitative", "title": "IL1R1/Ppia", "scale": {"domain": [0,5], "nice": false, "zero": false}},
                 "shape": {"field": "g", "type": "nominal", "scale": {"domain": ["Ctrl","Sham","50","100","150"], "range": ["circle","square","triangle-up","circle","circle"]}, "legend": null}
               }},
              {"data": {"name": "bars"}, "transform": [{"filter": "datum.p == 'D'"}],
               "mark": {"type": "rule", "strokeWidth": 4.5, "color": "#000"},
               "encoding": {
                 "x": {"field": "g", "type": "nominal", "sort": ["Ctrl","Sham","50","100","150"], "title": null},
                 "y": {"field": "lo", "type": "quantitative", "title": "IL1R1/Ppia", "scale": {"domain": [0,5], "nice": false, "zero": false}},
                 "y2": {"field": "hi"}
               }},
              {"data": {"name": "bars"}, "transform": [{"filter": "datum.p == 'D'"}],
               "mark": {"type": "tick", "thickness": 4.5, "size": 28, "color": "#000", "opacity": 1},
               "encoding": {
                 "x": {"field": "g", "type": "nominal", "sort": ["Ctrl","Sham","50","100","150"], "title": null},
                 "y": {"field": "lo", "type": "quantitative", "title": "IL1R1/Ppia", "scale": {"domain": [0,5], "nice": false, "zero": false}}
               }},
              {"data": {"name": "bars"}, "transform": [{"filter": "datum.p == 'D'"}],
               "mark": {"type": "tick", "thickness": 4.5, "size": 28, "color": "#000", "opacity": 1},
               "encoding": {
                 "x": {"field": "g", "type": "nominal", "sort": ["Ctrl","Sham","50","100","150"], "title": null},
                 "y": {"field": "hi", "type": "quantitative", "title": "IL1R1/Ppia", "scale": {"domain": [0,5], "nice": false, "zero": false}}
               }},
              {"data": {"name": "notes"}, "transform": [{"filter": "datum.p == 'D' && datum.k == 'br1'"}],
               "mark": {"type": "rule", "strokeWidth": 2.2, "color": "#000", "xOffset": -20, "x2Offset": 49},
               "encoding": {
                 "x": {"field": "g", "type": "nominal", "sort": ["Ctrl","Sham","50","100","150"], "title": null},
                 "x2": {"field": "g2"},
                 "y": {"field": "v", "type": "quantitative", "title": "IL1R1/Ppia", "scale": {"domain": [0,5], "nice": false, "zero": false}}
               }},
              {"data": {"name": "notes"}, "transform": [{"filter": "datum.p == 'D' && datum.k == 'br2'"}],
               "mark": {"type": "rule", "strokeWidth": 2.2, "color": "#000", "xOffset": -27, "x2Offset": 56},
               "encoding": {
                 "x": {"field": "g", "type": "nominal", "sort": ["Ctrl","Sham","50","100","150"], "title": null},
                 "x2": {"field": "g2"},
                 "y": {"field": "v", "type": "quantitative", "title": "IL1R1/Ppia", "scale": {"domain": [0,5], "nice": false, "zero": false}}
               }},
              {"data": {"name": "notes"}, "transform": [{"filter": "datum.p == 'D' && datum.k == 'hash'"}],
               "mark": {"type": "text", "fontSize": 30, "color": "#000", "dx": 8, "baseline": "middle", "align": "center"},
               "encoding": {
                 "x": {"field": "g", "type": "nominal", "sort": ["Ctrl","Sham","50","100","150"], "title": null},
                 "y": {"field": "v", "type": "quantitative", "title": "IL1R1/Ppia", "scale": {"domain": [0,5], "nice": false, "zero": false}},
                 "text": {"field": "t"}
               }},
              {"data": {"name": "notes"}, "transform": [{"filter": "datum.p == 'D' && datum.k == 'ace'"}],
               "mark": {"type": "text", "fontSize": 26, "fontWeight": "bold", "color": "#000", "dx": 27, "baseline": "middle", "align": "center"},
               "encoding": {
                 "x": {"field": "g", "type": "nominal", "sort": ["Ctrl","Sham","50","100","150"], "title": null},
                 "y": {"field": "v", "type": "quantitative", "title": "IL1R1/Ppia", "scale": {"domain": [0,5], "nice": false, "zero": false}},
                 "text": {"field": "t"}
               }},
              {"data": {"name": "notes"}, "transform": [{"filter": "datum.p == 'D' && datum.k == 'mct'"}],
               "mark": {"type": "text", "fontSize": 26, "fontWeight": "bold", "color": "#000", "dx": -24, "baseline": "middle", "align": "center"},
               "encoding": {
                 "x": {"field": "g", "type": "nominal", "sort": ["Ctrl","Sham","50","100","150"], "title": null},
                 "y": {"field": "v", "type": "quantitative", "title": "IL1R1/Ppia", "scale": {"domain": [0,5], "nice": false, "zero": false}},
                 "text": {"field": "t"}
               }}
            ]
          },
          {
            "title": {"text": "E", "dx": -124, "offset": 6},
            "width": 476, "height": 317,
            "layer": [
              {"data": {"name": "bars"}, "transform": [{"filter": "datum.p == 'E' && datum.g != 'Ctrl'"}],
               "mark": {"type": "bar", "width": 60, "opacity": 1},
               "encoding": {
                 "x": {"field": "g", "type": "nominal", "sort": ["Ctrl","Sham","50","100","150"], "scale": {"domain": ["Ctrl","Sham","50","100","150"], "paddingInner": 0.33, "paddingOuter": 0.35}, "title": null},
                 "y": {"field": "m", "type": "quantitative", "stack": null, "title": "TGF-b1/Ppia", "scale": {"domain": [0,3], "nice": false, "zero": false}, "axis": {"values": [0,1,2,3], "titleFontSize": 26, "titlePadding": 12, "titleY": 127}},
                 "fill": {"field": "g", "type": "nominal", "scale": {"domain": ["Ctrl","Sham","50","100","150"], "range": ["#ffffff","#dbe5f2","#b9cbe4","#93b3da","#2e5b95"]}, "legend": null}
               }},
              {"data": {"name": "bars"}, "transform": [{"filter": "datum.p == 'E' && datum.g == 'Ctrl'"}],
               "mark": {"type": "bar", "width": 54, "fill": "#ffffff", "stroke": "#000000", "strokeWidth": 4.7, "opacity": 1},
               "encoding": {
                 "x": {"field": "g", "type": "nominal", "sort": ["Ctrl","Sham","50","100","150"], "title": null},
                 "y": {"field": "m", "type": "quantitative", "stack": null, "title": "TGF-b1/Ppia", "scale": {"domain": [0,3], "nice": false, "zero": false}}
               }},
              {"data": {"name": "pts"}, "transform": [{"filter": "datum.p == 'E'"}],
               "mark": {"type": "point", "filled": true, "color": "#000", "opacity": 1, "size": 120, "strokeWidth": 0},
               "encoding": {
                 "x": {"field": "g", "type": "nominal", "sort": ["Ctrl","Sham","50","100","150"], "title": null},
                 "xOffset": {"field": "j", "type": "quantitative", "scale": {"domain": [-1,1]}},
                 "y": {"field": "v", "type": "quantitative", "title": "TGF-b1/Ppia", "scale": {"domain": [0,3], "nice": false, "zero": false}},
                 "shape": {"field": "g", "type": "nominal", "scale": {"domain": ["Ctrl","Sham","50","100","150"], "range": ["circle","square","triangle-up","triangle-down","diamond"]}, "legend": null}
               }},
              {"data": {"name": "bars"}, "transform": [{"filter": "datum.p == 'E'"}],
               "mark": {"type": "rule", "strokeWidth": 4.5, "color": "#000"},
               "encoding": {
                 "x": {"field": "g", "type": "nominal", "sort": ["Ctrl","Sham","50","100","150"], "title": null},
                 "y": {"field": "lo", "type": "quantitative", "title": "TGF-b1/Ppia", "scale": {"domain": [0,3], "nice": false, "zero": false}},
                 "y2": {"field": "hi"}
               }},
              {"data": {"name": "bars"}, "transform": [{"filter": "datum.p == 'E'"}],
               "mark": {"type": "tick", "thickness": 4.5, "size": 28, "color": "#000", "opacity": 1},
               "encoding": {
                 "x": {"field": "g", "type": "nominal", "sort": ["Ctrl","Sham","50","100","150"], "title": null},
                 "y": {"field": "lo", "type": "quantitative", "title": "TGF-b1/Ppia", "scale": {"domain": [0,3], "nice": false, "zero": false}}
               }},
              {"data": {"name": "bars"}, "transform": [{"filter": "datum.p == 'E'"}],
               "mark": {"type": "tick", "thickness": 4.5, "size": 28, "color": "#000", "opacity": 1},
               "encoding": {
                 "x": {"field": "g", "type": "nominal", "sort": ["Ctrl","Sham","50","100","150"], "title": null},
                 "y": {"field": "hi", "type": "quantitative", "title": "TGF-b1/Ppia", "scale": {"domain": [0,3], "nice": false, "zero": false}}
               }},
              {"data": {"name": "notes"}, "transform": [{"filter": "datum.p == 'E' && datum.k == 'sig'"}],
               "mark": {"type": "rule", "strokeWidth": 4.5, "color": "#000", "xOffset": -26, "x2Offset": 28},
               "encoding": {
                 "x": {"field": "g", "type": "nominal", "sort": ["Ctrl","Sham","50","100","150"], "title": null},
                 "x2": {"field": "g2"},
                 "y": {"field": "v", "type": "quantitative", "title": "TGF-b1/Ppia", "scale": {"domain": [0,3], "nice": false, "zero": false}}
               }},
              {"data": {"name": "notes"}, "transform": [{"filter": "datum.p == 'E' && datum.k == 'br1'"}],
               "mark": {"type": "rule", "strokeWidth": 2.2, "color": "#000", "xOffset": -18, "x2Offset": 50},
               "encoding": {
                 "x": {"field": "g", "type": "nominal", "sort": ["Ctrl","Sham","50","100","150"], "title": null},
                 "x2": {"field": "g2"},
                 "y": {"field": "v", "type": "quantitative", "title": "TGF-b1/Ppia", "scale": {"domain": [0,3], "nice": false, "zero": false}}
               }},
              {"data": {"name": "notes"}, "transform": [{"filter": "datum.p == 'E' && datum.k == 'br2'"}],
               "mark": {"type": "rule", "strokeWidth": 2.2, "color": "#000", "xOffset": -26, "x2Offset": 59},
               "encoding": {
                 "x": {"field": "g", "type": "nominal", "sort": ["Ctrl","Sham","50","100","150"], "title": null},
                 "x2": {"field": "g2"},
                 "y": {"field": "v", "type": "quantitative", "title": "TGF-b1/Ppia", "scale": {"domain": [0,3], "nice": false, "zero": false}}
               }},
              {"data": {"name": "notes"}, "transform": [{"filter": "datum.p == 'E' && datum.k == 'hash'"}],
               "mark": {"type": "text", "fontSize": 30, "color": "#000", "dx": 5, "baseline": "middle", "align": "center"},
               "encoding": {
                 "x": {"field": "g", "type": "nominal", "sort": ["Ctrl","Sham","50","100","150"], "title": null},
                 "y": {"field": "v", "type": "quantitative", "title": "TGF-b1/Ppia", "scale": {"domain": [0,3], "nice": false, "zero": false}},
                 "text": {"field": "t"}
               }},
              {"data": {"name": "notes"}, "transform": [{"filter": "datum.p == 'E' && datum.k == 'star'"}],
               "mark": {"type": "text", "fontSize": 40, "fontWeight": "bold", "color": "#000", "dx": 0, "baseline": "middle", "align": "center"},
               "encoding": {
                 "x": {"field": "g", "type": "nominal", "sort": ["Ctrl","Sham","50","100","150"], "title": null},
                 "y": {"field": "v", "type": "quantitative", "title": "TGF-b1/Ppia", "scale": {"domain": [0,3], "nice": false, "zero": false}},
                 "text": {"field": "t"}
               }},
              {"data": {"name": "notes"}, "transform": [{"filter": "datum.p == 'E' && datum.k == 'ace'"}],
               "mark": {"type": "text", "fontSize": 26, "fontWeight": "bold", "color": "#000", "dx": 29, "baseline": "middle", "align": "center"},
               "encoding": {
                 "x": {"field": "g", "type": "nominal", "sort": ["Ctrl","Sham","50","100","150"], "title": null},
                 "y": {"field": "v", "type": "quantitative", "title": "TGF-b1/Ppia", "scale": {"domain": [0,3], "nice": false, "zero": false}},
                 "text": {"field": "t"}
               }},
              {"data": {"name": "notes"}, "transform": [{"filter": "datum.p == 'E' && datum.k == 'mct'"}],
               "mark": {"type": "text", "fontSize": 26, "fontWeight": "bold", "color": "#000", "dx": -23, "baseline": "middle", "align": "center"},
               "encoding": {
                 "x": {"field": "g", "type": "nominal", "sort": ["Ctrl","Sham","50","100","150"], "title": null},
                 "y": {"field": "v", "type": "quantitative", "title": "TGF-b1/Ppia", "scale": {"domain": [0,3], "nice": false, "zero": false}},
                 "text": {"field": "t"}
               }}
            ]
          }
        ]
      }
    ]
  }
]
}
